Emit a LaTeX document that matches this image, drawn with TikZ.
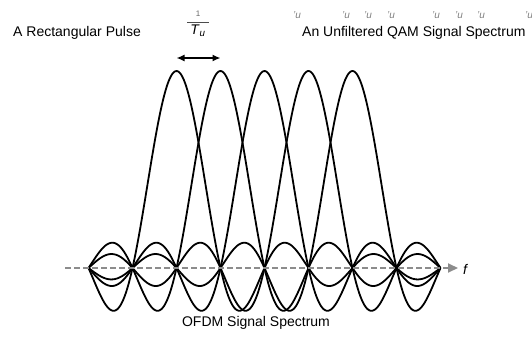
\documentclass[tikz,border=0pt]{standalone}
\usepackage{fontspec}
\setmainfont{Liberation Sans}
\usetikzlibrary{arrows.meta}
\begin{document}
\begin{tikzpicture}[x=1pt,y=1pt,
  declare function={sinc(\t)=sin(180*\t)/(pi*\t);},
  curve/.style={line width=1.8pt, black, line join=round},
  lbl/.style={font=\fontsize{14}{16}\selectfont, inner sep=0pt},
  frag/.style={font=\fontsize{10}{11}\selectfont\itshape, text=black!50, inner sep=0pt},
  axisline/.style={black!45, line width=2pt, dash pattern=on 6pt off 3pt},
]
\useasboundingbox (0,0) rectangle (532,341);
% subcarrier spectra
\foreach \c in {0,...,4} {
  \draw[curve, domain=-2:6, samples=322] plot ({176.5+44*\x}, {73+197*sinc(\x-\c)});
}
% frequency axis
\coordinate (axstart) at (65,73);
\coordinate (axend) at (458,73);
\draw[axisline, -{Triangle[length=10pt,width=9pt]}] (axstart) -- (axend);
\node[lbl, font=\fontsize{14}{16}\selectfont\itshape, anchor=west] (f) at (463,72) {f};
% spacing arrow
\coordinate (p0) at (176.5,283);
\coordinate (p1) at (220.5,283);
\draw[line width=1.4pt, {Latex[length=8pt,width=7pt]}-{Latex[length=8pt,width=7pt]}] (p0) -- (p1);
% fraction 1/Tu
\node[font=\fontsize{8}{9}\selectfont, text=black!60, inner sep=0pt] (one) at (198,327) {1};
\coordinate (fl0) at (187,319);
\coordinate (fl1) at (209,319);
\draw[line width=0.9pt, black!70] (fl0) -- (fl1);
\node[lbl, anchor=north] (Tu) at (198,316) {\textit{T}\textsubscript{\textit{u}}};
% labels
\node[lbl, anchor=west] (rect) at (13,308) {A Rectangular Pulse};
\node[lbl, anchor=west] (qam) at (302,308) {An Unfiltered QAM Signal Spectrum};
\node[lbl] (ofdm) at (256,18) {OFDM Signal Spectrum};
% faint fragments at top
\foreach \xx/\nm in {297/a,346/b,368/c,391/d,436/e,459/g,481/h,529/i} {
  \node[frag] (frag\nm) at (\xx,326) {'u};
}
\end{tikzpicture}
\end{document}
